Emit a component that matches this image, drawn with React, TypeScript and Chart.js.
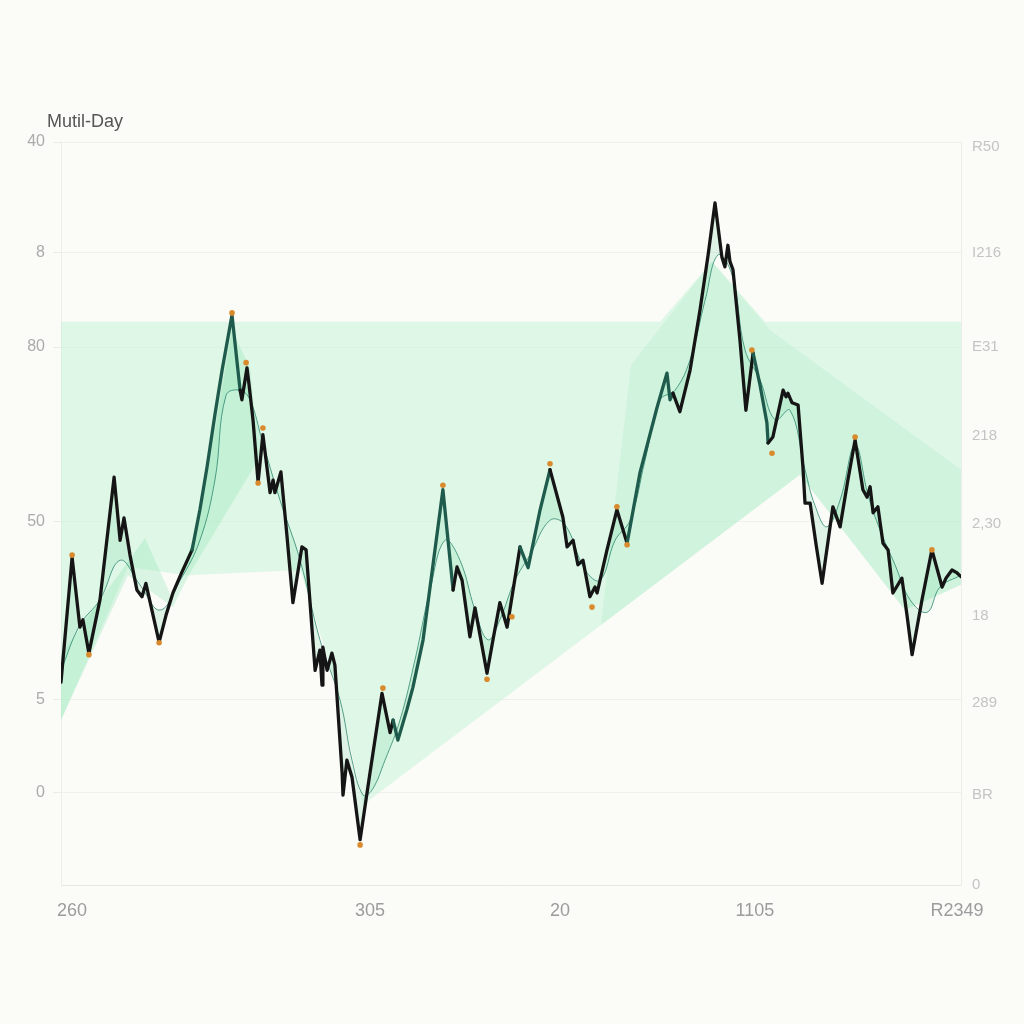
import { useEffect, useRef } from "react";
import { Chart, registerables } from "chart.js";

Chart.register(...registerables);

const chartTitle = "Mutil-Day";

// main price path
const days = [0, 3.7, 6.3, 7.3, 9.3, 13, 17.7, 19.7, 21, 23, 25.3, 27, 28.3, 30.3, 32.7, 35, 37.3, 40.3, 43.7, 46.3, 48.7, 51.3, 53.7, 57, 59.7, 60.3, 62, 62.7, 64, 65.7, 67.3, 69.7, 70.7, 71.3, 73.3, 75.3, 77.3, 80.3, 81.7, 84.7, 86.3, 87, 87.3, 88.7, 90.3, 91.3, 93.7, 94, 95.3, 97, 99.7, 103, 107, 109.7, 110.7, 112.3, 115.3, 117.3, 120.7, 124, 127.3, 130.7, 132, 133.7, 136.3, 138, 142, 144, 146.3, 148.7, 153, 155.7, 159.7, 163, 167.3, 168.7, 170.7, 172.3, 174, 176.3, 178, 178.7, 182, 185.3, 188.7, 193, 198.7, 202, 203, 204, 206.3, 209.7, 213, 215.7, 218, 220.3, 221.3, 222.3, 223, 224, 226.3, 228.3, 230.7, 233, 235.3, 235.7, 237.3, 240.7, 241.7, 242.3, 243.7, 245.7, 247.3, 248, 249.7, 251.7, 253.7, 257.3, 259.7, 262.3, 264.7, 267.3, 268.7, 269.7, 270.7, 272.3, 274, 275.7, 277.3, 280.3, 282, 283.7, 287, 290.3, 293.7, 295, 297, 298.7, 300];
const values = [27.3, 44.1, 34.7, 35.7, 31.2, 38.4, 54.9, 46.4, 49.4, 44.4, 39.7, 38.8, 40.6, 37.0, 32.7, 36.3, 39.3, 42.1, 45.1, 50.5, 56.3, 63.3, 69.3, 76.7, 66.6, 65.3, 69.6, 67.3, 62.6, 54.2, 60.6, 52.8, 54.5, 52.8, 55.6, 47.1, 38.0, 45.5, 45.1, 28.9, 31.6, 26.9, 32.0, 28.9, 31.2, 29.6, 15.1, 12.1, 16.8, 14.5, 6.1, 15.1, 25.8, 20.5, 22.2, 19.5, 23.6, 26.6, 33.0, 43.1, 53.2, 39.7, 42.8, 41.0, 33.4, 37.3, 28.5, 33.0, 38.0, 34.7, 45.5, 42.7, 50.5, 55.9, 49.5, 45.5, 46.4, 43.1, 43.7, 38.8, 40.1, 39.3, 45.1, 50.5, 46.0, 55.5, 64.3, 68.9, 65.3, 66.2, 63.7, 69.3, 77.4, 84.8, 91.8, 84.5, 83.2, 86.1, 83.9, 82.8, 73.4, 63.9, 71.6, 67.3, 62.2, 59.5, 60.3, 66.6, 65.7, 66.2, 64.9, 64.6, 56.3, 51.4, 51.4, 45.8, 40.6, 50.9, 48.2, 54.5, 59.9, 53.2, 52.2, 53.6, 50.1, 50.9, 46.0, 45.1, 39.3, 41.3, 36.3, 31.0, 38.4, 45.1, 40.1, 41.3, 42.4, 42.0, 41.5];

// thin lagging average
const maDays = [0, 6.3, 13, 19.7, 26.3, 33, 39.7, 46.3, 51.3, 55, 59.7, 63, 67, 73, 79.7, 86.3, 93, 97, 100.7, 103.7, 108, 113, 118, 123, 128, 133, 138, 142.3, 146.3, 151.3, 156.3, 163, 168, 174.7, 179.7, 184.7, 189.7, 194.7, 199.7, 204.7, 209.7, 214.7, 219, 223.7, 228, 233, 238, 243, 248, 251.3, 255.3, 259.7, 264.7, 269, 273, 278, 283, 288.7, 293, 300];
const maValues = [28.9, 35.0, 38.4, 43.7, 40.4, 37.0, 41.0, 46.4, 54.5, 65.9, 66.6, 65.3, 59.9, 51.8, 43.7, 33.0, 24.9, 16.8, 12.1, 12.8, 16.8, 22.2, 30.3, 39.7, 46.4, 43.7, 37.0, 33.0, 35.7, 41.0, 44.4, 49.1, 48.5, 42.4, 41.0, 46.4, 49.1, 57.2, 65.3, 66.6, 70.7, 78.7, 84.8, 82.1, 72.0, 68.0, 62.6, 63.9, 55.9, 51.1, 48.2, 51.8, 59.2, 52.5, 47.8, 43.1, 38.4, 36.7, 40.1, 41.7];

// orange pivot markers
const pivotDays = [3.7, 9.3, 32.7, 57, 61.7, 67.3, 65.7, 99.7, 107.3, 127.3, 142, 150.3, 163, 177, 185.3, 188.7, 230.3, 237, 264.7, 290.3];
const pivotValues = [44.4, 31.0, 32.6, 77.0, 70.3, 61.5, 54.1, 5.4, 26.5, 53.8, 27.7, 36.1, 56.7, 37.4, 50.9, 45.8, 72.0, 58.1, 60.3, 45.1];

// light outer band
const bandTopDays = [0, 199.7, 217, 234.7, 300];
const bandTopValues = [75.8, 75.8, 83.9, 75.8, 75.8];
const bandBottomDays = [0, 22.3, 42, 79.7, 92.3, 100.7, 246.3, 281.3, 300];
const bandBottomValues = [22.2, 42.8, 41.7, 42.4, 26.2, 10.8, 55.2, 37.0, 40.4];

// right medium band
const rightTopDays = [180, 190, 217, 236.3, 300];
const rightTopValues = [35.0, 70.0, 83.9, 74.7, 55.9];
const rightBottomDays = [180, 246.3, 281.3, 300];
const rightBottomValues = [35.0, 55.2, 37.0, 40.4];

// left medium band
const leftTopDays = [0, 28, 37, 46.3, 57, 63, 65.7];
const leftTopValues = [31.0, 46.7, 38.6, 49.1, 74.7, 69.6, 57.9];
const leftBottomDays = [0, 22.3, 37.3, 43, 65.7];
const leftBottomValues = [22.2, 41.7, 37.4, 42.0, 57.2];

const xTickValues = [3.7, 103, 166.3, 231.3, 298.7];
const xTickLabels = ["260", "305", "20", "1105", "R2349"];
const leftTickValues = [100, 85.1, 72.4, 48.9, 24.9, 12.4];
const leftTickLabels = ["40", "8", "80", "50", "5", "0"];
const rightTickValues = [99.3, 85.1, 72.4, 60.4, 48.6, 36.2, 24.5, 12.1, 0];
const rightTickLabels = ["R50", "I216", "E31", "218", "2,30", "18", "289", "BR", "0"];

const tealRanges = [[43, 60], [110, 131], [150, 164], [186, 204], [229, 236], [288, 292]];

const pts = (xs: number[], ys: number[]) => xs.map((x, i) => ({ x, y: ys[i] }));

const FONT = '"Liberation Sans", Arial, sans-serif';

export default function App() {
  const ref = useRef<HTMLCanvasElement | null>(null);

  useEffect(() => {
    document.body.style.margin = "0";
    const canvas = ref.current;
    if (!canvas) return;

    const bgPlugin = {
      id: "bg",
      beforeDraw(chart: any) {
        const c = chart.ctx;
        c.save();
        c.fillStyle = "#fbfbf8";
        c.fillRect(0, 0, chart.width, chart.height);
        c.restore();
      },
      afterDraw(chart: any) {
        const c = chart.ctx;
        c.save();
        c.font = "18px " + FONT;
        c.fillStyle = "#555555";
        c.textBaseline = "alphabetic";
        c.textAlign = "left";
        c.fillText(chartTitle, 47, 127);
        c.restore();
      },
    };

    const isTeal = (x0: number, x1: number) =>
      tealRanges.some(([a, b]) => x0 >= a && x1 <= b);

    const chart = new Chart(canvas, {
      type: "line",
      data: {
        datasets: [
          {
            label: "price",
            data: pts(days, values),
            borderColor: "#151515",
            borderWidth: 3.3,
            borderJoinStyle: "round",
            borderCapStyle: "round",
            pointRadius: 0,
            tension: 0,
            order: 1,
            fill: { target: 2, above: "rgba(110,215,160,0.2)", below: "rgba(110,215,160,0.2)" },
            segment: {
              borderColor: (ctx: any) =>
                isTeal(ctx.p0.parsed.x, ctx.p1.parsed.x) ? "#1f5b4c" : "#151515",
            },
          } as any,
          {
            label: "pivots",
            data: pts(pivotDays, pivotValues),
            showLine: false,
            pointRadius: 2.8,
            pointBackgroundColor: "#d98a2c",
            pointBorderWidth: 0,
            order: 0,
          },
          {
            label: "ma",
            data: pts(maDays, maValues),
            borderColor: "rgba(30,120,100,0.75)",
            borderWidth: 1,
            pointRadius: 0,
            tension: 0.4,
            fill: false,
            order: 2,
          },
          {
            label: "bandTop",
            data: pts(bandTopDays, bandTopValues),
            borderWidth: 0,
            borderColor: "rgba(0,0,0,0)",
            pointRadius: 0,
            fill: false,
            order: 8,
          },
          {
            label: "bandBottom",
            data: pts(bandBottomDays, bandBottomValues),
            borderWidth: 0,
            borderColor: "rgba(0,0,0,0)",
            pointRadius: 0,
            fill: { target: 3 },
            backgroundColor: "rgba(196,244,212,0.5)",
            order: 7,
          },
          {
            label: "rightTop",
            data: pts(rightTopDays, rightTopValues),
            borderWidth: 0,
            borderColor: "rgba(0,0,0,0)",
            pointRadius: 0,
            fill: false,
            order: 6,
          },
          {
            label: "rightBottom",
            data: pts(rightBottomDays, rightBottomValues),
            borderWidth: 0,
            borderColor: "rgba(0,0,0,0)",
            pointRadius: 0,
            fill: { target: 5 },
            backgroundColor: "rgba(150,232,185,0.2)",
            order: 5,
          },
          {
            label: "leftTop",
            data: pts(leftTopDays, leftTopValues),
            borderWidth: 0,
            borderColor: "rgba(0,0,0,0)",
            pointRadius: 0,
            fill: false,
            order: 4,
          },
          {
            label: "leftBottom",
            data: pts(leftBottomDays, leftBottomValues),
            borderWidth: 0,
            borderColor: "rgba(0,0,0,0)",
            pointRadius: 0,
            fill: { target: 7 },
            backgroundColor: "rgba(140,230,180,0.3)",
            order: 3,
          },
        ],
      },
      options: {
        animation: false,
        responsive: false,
        devicePixelRatio: 1,
        layout: { padding: { top: 142, left: 0, right: 0, bottom: 0 } },
        plugins: { legend: { display: false }, tooltip: { enabled: false }, title: { display: false } },
        scales: {
          x: {
            type: "linear",
            min: 0,
            max: 300,
            offset: false,
            afterBuildTicks: (s: any) => {
              s.ticks = xTickValues.map((v) => ({ value: v }));
            },
            afterFit: (s: any) => {
              s.height = 139;
            },
            ticks: {
              autoSkip: false,
              maxRotation: 0,
              padding: 15,
              color: "#9c9c9c",
              font: { size: 18, family: FONT },
              callback: (_v: any, i: number) => xTickLabels[i],
            },
            grid: { display: false, drawTicks: false },
            border: { display: true, color: "#e7e7e5" },
          },
          y: {
            position: "left",
            min: 0,
            max: 100,
            afterBuildTicks: (s: any) => {
              s.ticks = leftTickValues.map((v) => ({ value: v }));
            },
            afterFit: (s: any) => {
              s.width = 61;
            },
            ticks: {
              autoSkip: false,
              padding: 8,
              color: "#ababab",
              font: { size: 16, family: FONT },
              callback: (_v: any, i: number) => leftTickLabels[i],
            },
            grid: { color: "rgba(0,0,0,0.045)", tickLength: 8, tickColor: "rgba(0,0,0,0.06)" },
            border: { display: true, color: "#ececea" },
          },
          y2: {
            position: "right",
            min: 0,
            max: 100,
            afterBuildTicks: (s: any) => {
              s.ticks = rightTickValues.map((v) => ({ value: v }));
            },
            afterFit: (s: any) => {
              s.width = 63;
            },
            ticks: {
              autoSkip: false,
              padding: 11,
              color: "#c4c4c4",
              font: { size: 15, family: FONT },
              callback: (_v: any, i: number) => rightTickLabels[i],
            },
            grid: { drawOnChartArea: false, drawTicks: false },
            border: { display: true, color: "#ececea" },
          },
        },
      } as any,
      plugins: [bgPlugin],
    });

    return () => chart.destroy();
  }, []);

  return (
    <div style={{ position: "absolute", left: 0, top: 0, width: 1024, height: 1024, background: "#fbfbf8" }}>
      <canvas ref={ref} width={1024} height={1024} />
    </div>
  );
}
